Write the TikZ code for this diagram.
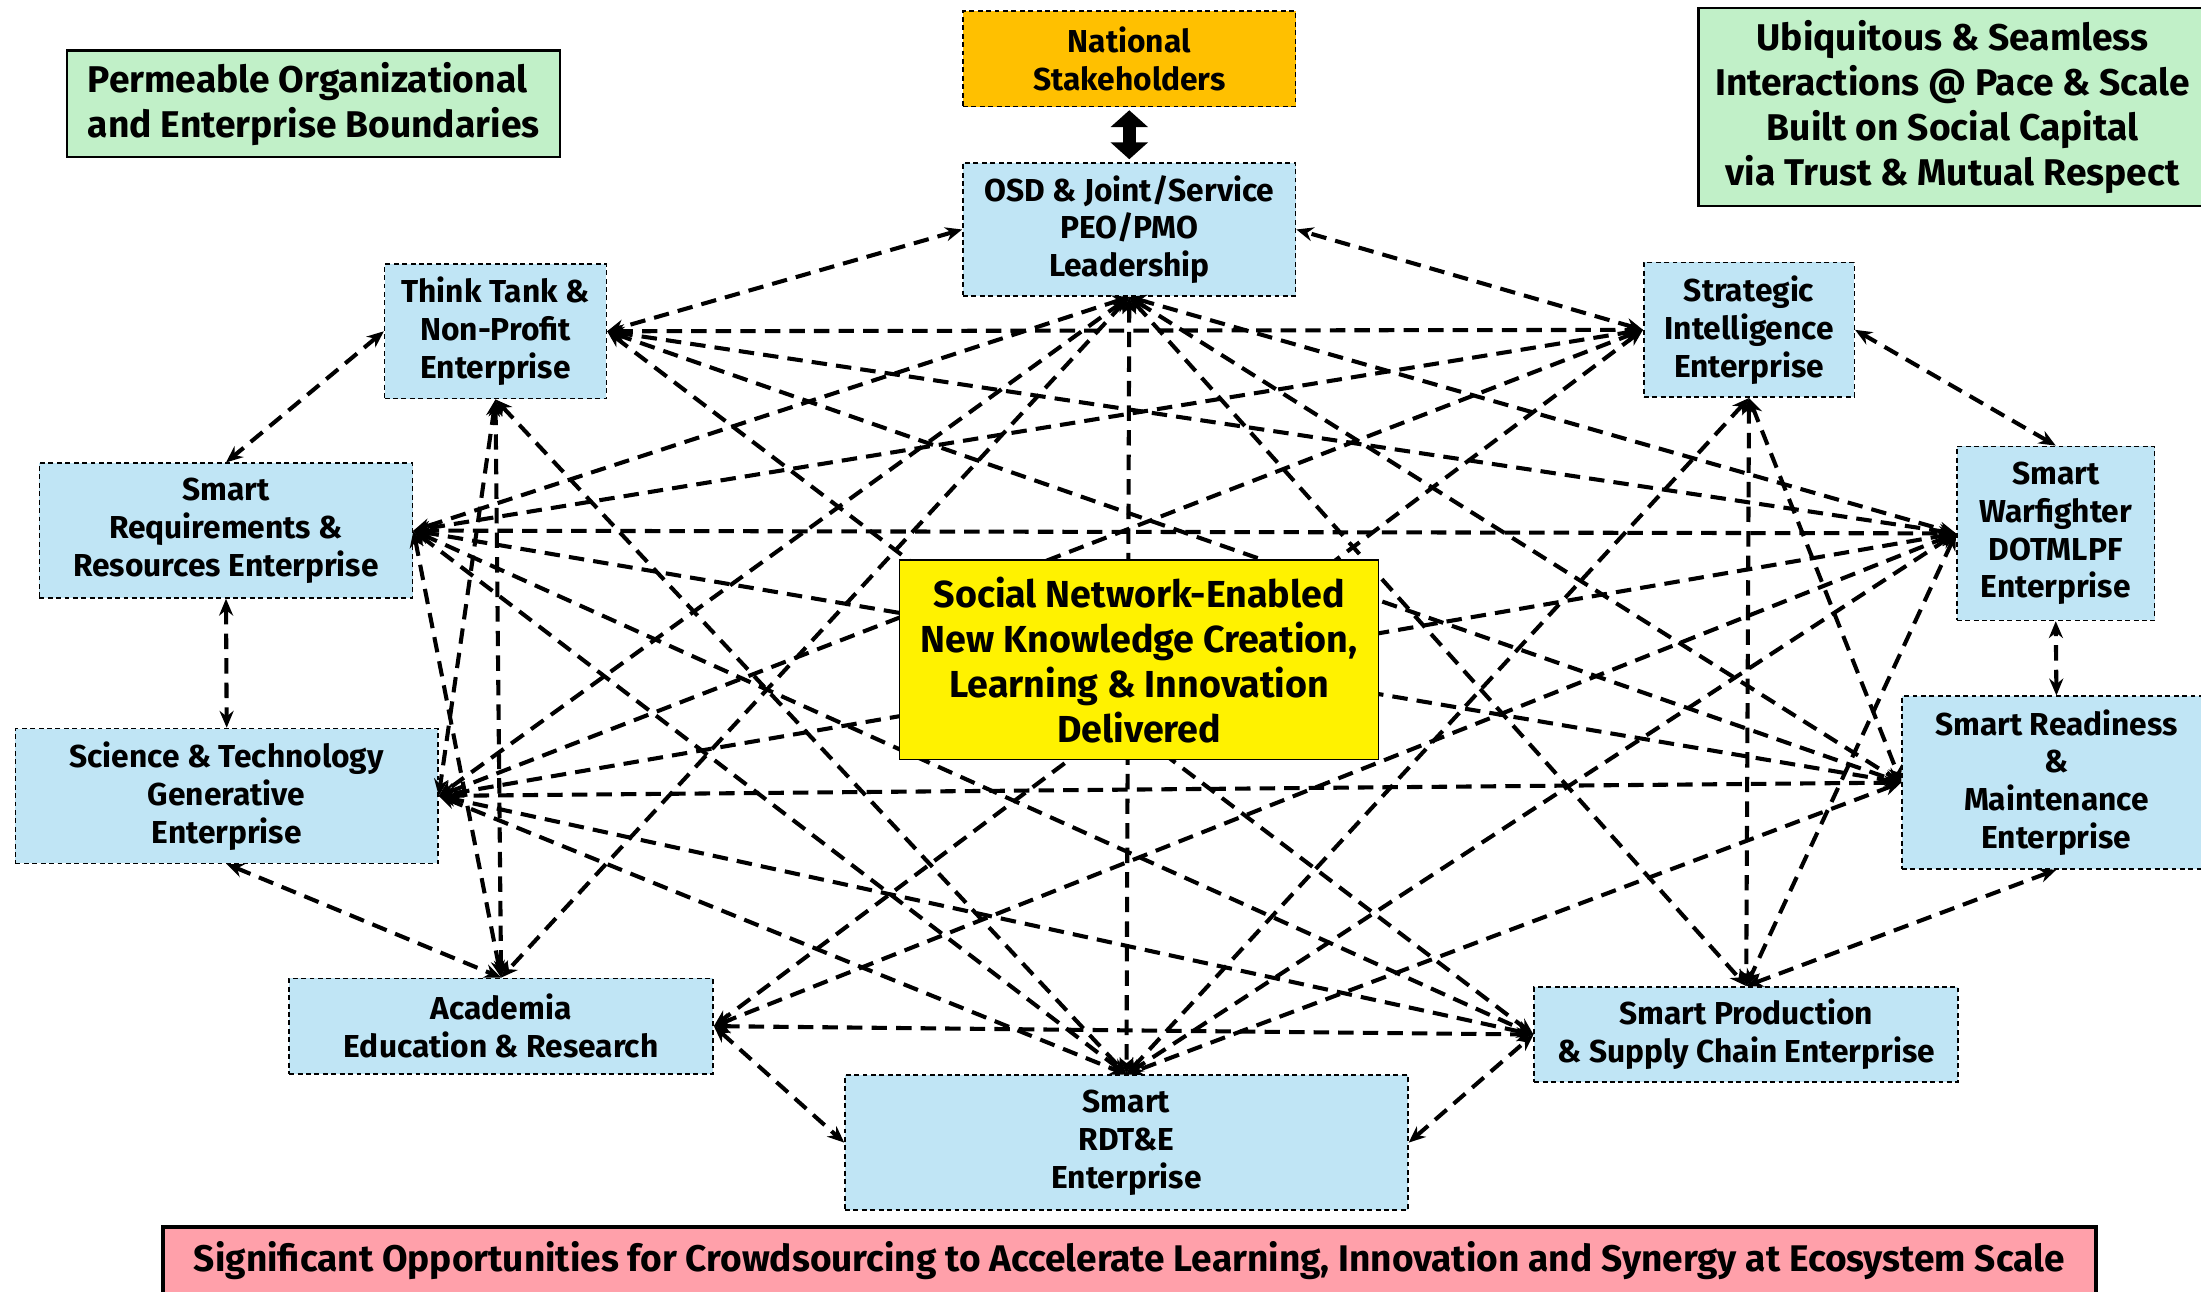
\documentclass[tikz,border=0pt]{standalone}
\usepackage{fontspec}
\setmainfont{Fira Sans}
\usetikzlibrary{arrows.meta}
\definecolor{lblue}{RGB}{192,229,245}
\definecolor{lgreen}{RGB}{193,240,200}
\definecolor{natorange}{RGB}{255,192,0}
\definecolor{pinkbar}{RGB}{255,160,170}
\begin{document}
\begin{tikzpicture}[x=1pt,y=-1pt,
  ebox/.style={draw, line width=1.1pt, dash pattern=on 3.5pt off 2.5pt, fill=lblue,
    align=center, inner sep=0pt, font=\fontsize{22.6}{27}\selectfont\bfseries},
  gbox/.style={draw, line width=1.5pt, fill=lgreen, inner sep=0pt,
    font=\fontsize{26.5}{32}\selectfont\bfseries},
  conn/.style={{Stealth[length=12pt,width=10pt]}-{Stealth[length=12pt,width=10pt]},
    line width=2.9pt, dash pattern=on 11pt off 6.5pt},
  bigarrow/.style={{Triangle[length=12pt,width=26pt]}-{Triangle[length=12pt,width=26pt]},
    line width=9pt}]
\useasboundingbox (0,0) rectangle (1568,920);
\fill[white] (0,0) rectangle (1568,920);

% text boxes
\node[gbox, align=left, minimum width=351pt, minimum height=76pt] (perm) at (223.5,74)
  {Permeable Organizational\\and Enterprise Boundaries};
\node[gbox, align=center, minimum width=362pt, minimum height=141pt] (ubiq) at (1391,76.5)
  {Ubiquitous \& Seamless\\Interactions @ Pace \& Scale\\Built on Social Capital\\via Trust \& Mutual Respect};

% enterprise nodes
\node[ebox, fill=natorange, minimum width=237pt, minimum height=68pt] (nat) at (804.5,42) {National\\Stakeholders};
\node[ebox, minimum width=237pt, minimum height=95pt] (osd) at (804.5,163.5) {OSD \& Joint/Service\\PEO/PMO\\Leadership};
\node[ebox, minimum width=158pt, minimum height=96pt] (think) at (353,236) {Think Tank \&\\Non-Profit\\Enterprise};
\node[ebox, minimum width=150pt, minimum height=96pt] (strat) at (1246,235) {Strategic\\Intelligence\\Enterprise};
\node[ebox, minimum width=266pt, minimum height=96pt] (req) at (161,378) {Smart\\Requirements \&\\Resources Enterprise};
\node[ebox, minimum width=141pt, minimum height=124pt] (warf) at (1464.5,380) {Smart\\Warfighter\\DOTMLPF\\Enterprise};
\node[ebox, minimum width=301pt, minimum height=96pt] (sci) at (161.5,567) {Science \& Technology\\Generative\\Enterprise};
\node[ebox, minimum width=220pt, minimum height=123pt] (ready) at (1465,557.5) {Smart Readiness\\\&\\Maintenance\\Enterprise};
\node[ebox, minimum width=302pt, minimum height=68pt] (acad) at (357,731) {Academia\\Education \& Research};
\node[ebox, minimum width=302pt, minimum height=68pt] (prod) at (1244,737) {Smart Production\\\& Supply Chain Enterprise};
\node[ebox, minimum width=401pt, minimum height=96pt] (rdte) at (802.5,814) {Smart\\RDT\&E\\Enterprise};

% national link
\draw[bigarrow] ([yshift=-2pt]nat.south) -- ([yshift=2pt]osd.north);

% ring links
\draw[conn] (think.west) -- (req.north);
\draw[conn] (req.south) -- (sci.north);
\draw[conn] (sci.south) -- (acad.north);
\draw[conn] (acad.east) -- (rdte.west);
\draw[conn] (rdte.east) -- (prod.west);
\draw[conn] (prod.north) -- (ready.south);
\draw[conn] (ready.north) -- (warf.south);
\draw[conn] (warf.north) -- (strat.east);
\draw[conn] (strat.west) -- (osd.east);
\draw[conn] (osd.west) -- (think.east);

% chords
\draw[conn] (think.east) -- (strat.west);
\draw[conn] (think.east) -- (warf.west);
\draw[conn] (think.east) -- (ready.west);
\draw[conn] (think.east) -- (prod.west);
\draw[conn] (think.south) -- (rdte.north);
\draw[conn] (think.south) -- (acad.north);
\draw[conn] (think.south) -- (sci.east);

\draw[conn] (osd.south) -- (req.east);
\draw[conn] (osd.south) -- (sci.east);
\draw[conn] (osd.south) -- (acad.north);
\draw[conn] (osd.south) -- (rdte.north);
\draw[conn] (osd.south) -- (prod.north);
\draw[conn] (osd.south) -- (warf.west);
\draw[conn] (osd.south) -- (ready.west);

\draw[conn] (strat.west) -- (req.east);
\draw[conn] (strat.west) -- (sci.east);
\draw[conn] (strat.west) -- (acad.east);
\draw[conn] (strat.south) -- (rdte.north);
\draw[conn] (strat.south) -- (prod.north);
\draw[conn] (strat.south) -- (ready.west);

\draw[conn] (req.east) -- (warf.west);
\draw[conn] (req.east) -- (ready.west);
\draw[conn] (req.east) -- (prod.west);
\draw[conn] (req.east) -- (rdte.north);
\draw[conn] (req.east) -- (acad.north);

\draw[conn] (warf.west) -- (sci.east);
\draw[conn] (warf.west) -- (acad.east);
\draw[conn] (warf.west) -- (rdte.north);
\draw[conn] (warf.west) -- (prod.north);

\draw[conn] (sci.east) -- (ready.west);
\draw[conn] (sci.east) -- (prod.west);
\draw[conn] (sci.east) -- (rdte.north);

\draw[conn] (ready.west) -- (rdte.north);
\draw[conn] (acad.east) -- (prod.west);

% central node on top
\node[draw, line width=1pt, fill=yellow, align=center, inner sep=0pt,
  minimum width=341pt, minimum height=142pt,
  font=\fontsize{26.8}{32}\selectfont\bfseries] (core) at (811.5,470)
  {Social Network-Enabled\\New Knowledge Creation,\\Learning \& Innovation\\Delivered};

% bottom banner
\node[draw, line width=3pt, fill=pinkbar, inner sep=0pt,
  minimum width=1377pt, minimum height=48pt,
  font=\fontsize{26.4}{30}\selectfont\bfseries] (banner) at (804.5,898)
  {Significant Opportunities for Crowdsourcing to Accelerate Learning, Innovation and Synergy at Ecosystem Scale};
\end{tikzpicture}
\end{document}
